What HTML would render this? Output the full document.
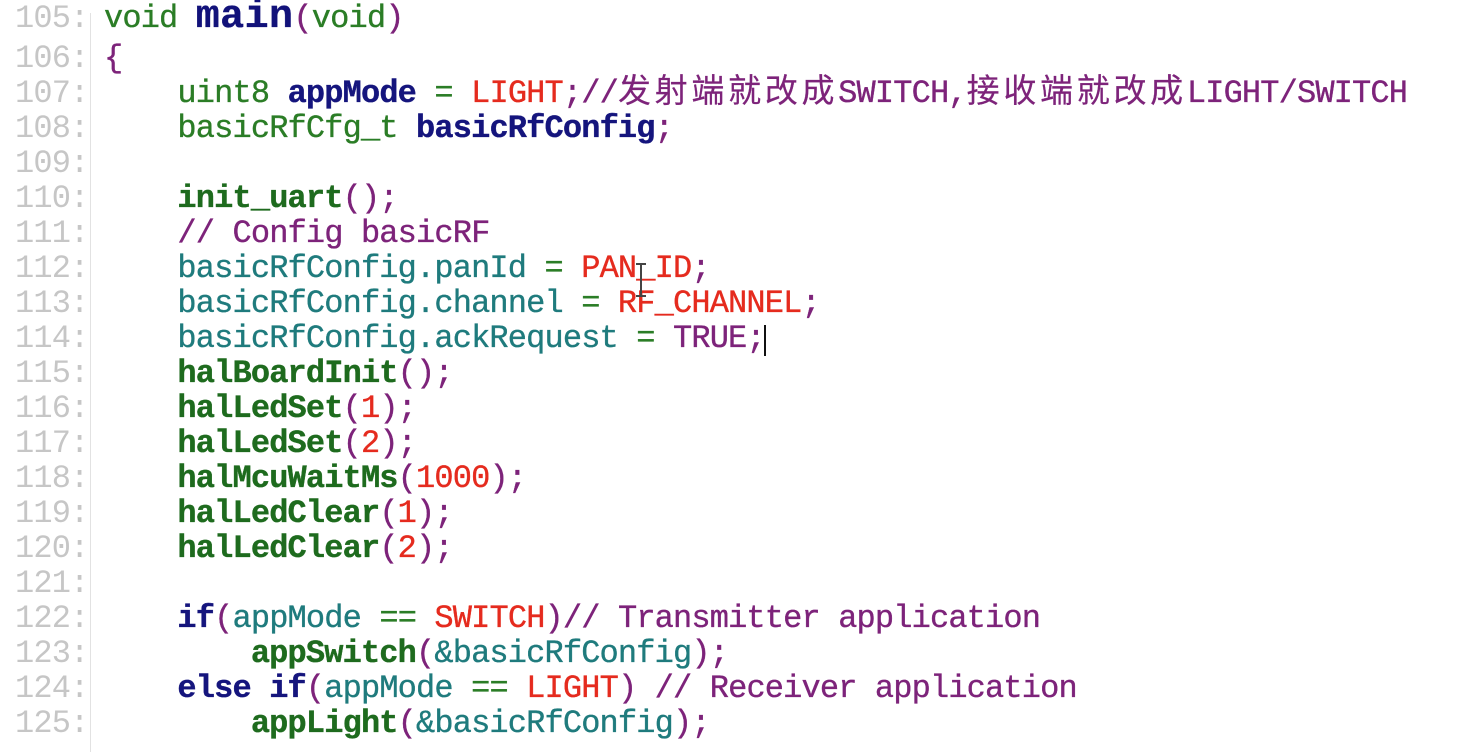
<!DOCTYPE html>
<html>
<head>
<meta charset="utf-8">
<style>
  html,body{margin:0;padding:0;background:#fff;}
  body{width:1464px;height:752px;position:relative;overflow:hidden;}
  .ln,.num{position:absolute;white-space:pre;font-family:"Liberation Mono","DejaVu Sans Mono",monospace;font-size:32px;letter-spacing:-0.85px;line-height:35px;height:35px;}
  .ln{left:104px;-webkit-text-stroke:0.35px currentColor;}
  .num{left:15px;color:#c6c6c6;}
  .g{color:#2b7d26;}
  .G{color:#1e6b1e;font-weight:bold;}
  .n{color:#15157d;font-weight:bold;}
  .p{color:#7d237a;}
  .r{color:#e52b1e;}
  .t{color:#1f7b7d;}
  .main{color:#12127a;font-weight:bold;font-size:40px;letter-spacing:0.4px;line-height:1px;}
  .cjk{font-family:"Noto Sans CJK SC","WenQuanYi Zen Hei",sans-serif;font-size:33px;letter-spacing:3.7px;line-height:1px;-webkit-text-stroke:0.2px currentColor;}
  .gut{position:absolute;left:90px;top:13px;width:1px;height:739px;background:#e2e2e2;}
  .caret{position:absolute;left:764px;top:325px;width:2px;height:31px;background:#111;}
  .ib{position:absolute;background:#444;}
</style>
</head>
<body>
<div class="gut"></div>

<div class="num" style="top:1px">105:</div>
<div class="ln" style="top:1px"><span class="g">void</span> <span class="main">main</span><span class="p">(</span><span class="g">void</span><span class="p">)</span></div>

<div class="num" style="top:41px">106:</div>
<div class="ln" style="top:41px"><span class="p">{</span></div>

<div class="num" style="top:76px">107:</div>
<div class="ln" style="top:76px">    <span class="g">uint8</span> <span class="n">appMode</span> <span class="g">=</span> <span class="r">LIGHT</span><span class="p">;//<span class="cjk">发射端就改成</span>SWITCH,<span class="cjk">接收端就改成</span>LIGHT/SWITCH</span></div>

<div class="num" style="top:111px">108:</div>
<div class="ln" style="top:111px">    <span class="g">basicRfCfg_t</span> <span class="n">basicRfConfig</span><span class="p">;</span></div>

<div class="num" style="top:146px">109:</div>

<div class="num" style="top:181px">110:</div>
<div class="ln" style="top:181px">    <span class="G">init_uart</span><span class="p">();</span></div>

<div class="num" style="top:216px">111:</div>
<div class="ln" style="top:216px">    <span class="p">// Config basicRF</span></div>

<div class="num" style="top:251px">112:</div>
<div class="ln" style="top:251px">    <span class="t">basicRfConfig.panId</span> <span class="g">=</span> <span class="r">PAN_ID</span><span class="p">;</span></div>

<div class="num" style="top:286px">113:</div>
<div class="ln" style="top:286px">    <span class="t">basicRfConfig.channel</span> <span class="g">=</span> <span class="r">RF_CHANNEL</span><span class="p">;</span></div>

<div class="num" style="top:321px">114:</div>
<div class="ln" style="top:321px">    <span class="t">basicRfConfig.ackRequest</span> <span class="g">=</span> <span class="p">TRUE;</span></div>

<div class="num" style="top:356px">115:</div>
<div class="ln" style="top:356px">    <span class="G">halBoardInit</span><span class="p">();</span></div>

<div class="num" style="top:391px">116:</div>
<div class="ln" style="top:391px">    <span class="G">halLedSet</span><span class="p">(</span><span class="r">1</span><span class="p">);</span></div>

<div class="num" style="top:426px">117:</div>
<div class="ln" style="top:426px">    <span class="G">halLedSet</span><span class="p">(</span><span class="r">2</span><span class="p">);</span></div>

<div class="num" style="top:461px">118:</div>
<div class="ln" style="top:461px">    <span class="G">halMcuWaitMs</span><span class="p">(</span><span class="r">1000</span><span class="p">);</span></div>

<div class="num" style="top:496px">119:</div>
<div class="ln" style="top:496px">    <span class="G">halLedClear</span><span class="p">(</span><span class="r">1</span><span class="p">);</span></div>

<div class="num" style="top:531px">120:</div>
<div class="ln" style="top:531px">    <span class="G">halLedClear</span><span class="p">(</span><span class="r">2</span><span class="p">);</span></div>

<div class="num" style="top:566px">121:</div>

<div class="num" style="top:601px">122:</div>
<div class="ln" style="top:601px">    <span class="n">if</span><span class="p">(</span><span class="t">appMode</span> <span class="g">==</span> <span class="r">SWITCH</span><span class="p">)// Transmitter application</span></div>

<div class="num" style="top:636px">123:</div>
<div class="ln" style="top:636px">        <span class="G">appSwitch</span><span class="p">(</span><span class="t">&amp;basicRfConfig</span><span class="p">);</span></div>

<div class="num" style="top:671px">124:</div>
<div class="ln" style="top:671px">    <span class="n">else if</span><span class="p">(</span><span class="t">appMode</span> <span class="g">==</span> <span class="r">LIGHT</span><span class="p">) // Receiver application</span></div>

<div class="num" style="top:706px">125:</div>
<div class="ln" style="top:706px">        <span class="G">appLight</span><span class="p">(</span><span class="t">&amp;basicRfConfig</span><span class="p">);</span></div>

<div class="caret"></div>

<!-- mouse I-beam -->
<div class="ib" style="left:640px;top:264px;width:2px;height:32px;"></div>
<div class="ib" style="left:636px;top:263px;width:10px;height:2px;"></div>
<div class="ib" style="left:636px;top:295px;width:10px;height:2px;"></div>
</body>
</html>
